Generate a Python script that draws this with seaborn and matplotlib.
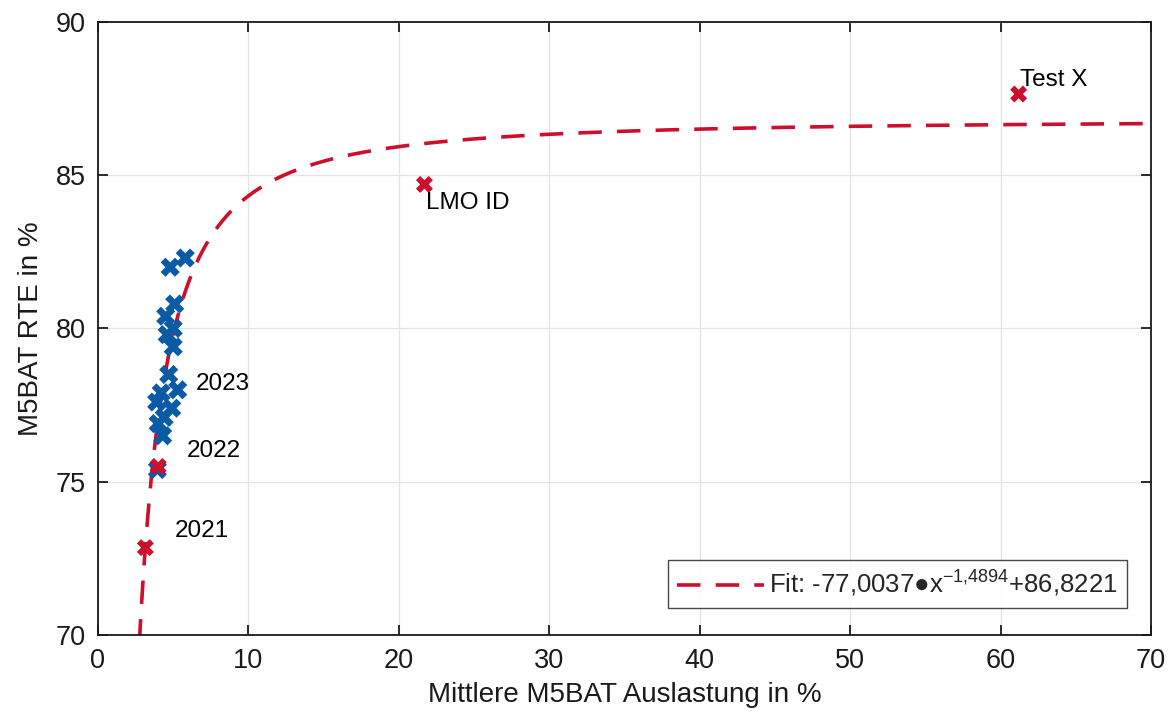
import numpy as np
import pandas as pd
import matplotlib
matplotlib.use("Agg")
import matplotlib.pyplot as plt
import seaborn as sns

# Blue points (yearly measurements)
blue_x = [4.8, 5.8, 5.1, 4.5, 5.0, 4.6, 5.0, 4.7, 4.2, 5.3, 4.9, 3.9, 4.0, 4.4, 4.3, 3.95]
blue_y = [82.0, 82.3, 80.8, 80.4, 80.0, 79.8, 79.4, 78.5, 77.9, 78.0, 77.4, 77.6, 76.9, 77.1, 76.5, 75.4]

# Red points (highlighted)
red_x = [3.15, 4.0, 21.7, 61.2]
red_y = [72.85, 75.5, 84.7, 87.65]

# Text labels
label_text = ["2023", "2022", "2021", "LMO ID", "Test X"]
label_x = [6.5, 5.9, 5.1, 21.8, 61.3]
label_y = [78.2, 76.0, 73.4, 84.1, 88.1]

# Fit coefficients from the legend: a * x^b + c
fit_a = -77.0037
fit_b = -1.4894
fit_c = 86.8221
fit_label = "Fit: -77,0037\u25cfx$^{-1{,}4894}$+86,8221"

RED = "#CE0E2D"
BLUE = "#0A5AA6"
INK = "#1a1a1a"

sns.set_theme(style="white")
plt.rcParams["font.family"] = ["Liberation Sans", "DejaVu Sans"]
plt.rcParams["mathtext.fontset"] = "custom"
plt.rcParams["mathtext.rm"] = "Liberation Sans"
plt.rcParams["mathtext.it"] = "Liberation Sans"

fig = plt.figure(figsize=(11.75, 7.25), dpi=100)
ax = fig.add_axes([0.0834, 0.1241, 0.8962, 0.8456])

fit_x = np.linspace(2.75, 70, 600)
fit_df = pd.DataFrame({"x": fit_x, "y": fit_a * fit_x ** fit_b + fit_c})
sns.lineplot(data=fit_df, x="x", y="y", ax=ax, color=RED, lw=2.6,
             dashes=False, linestyle=(0, (6.5, 4.2)), label=fit_label, zorder=2)

blue_df = pd.DataFrame({"x": blue_x, "y": blue_y})
sns.scatterplot(data=blue_df, x="x", y="y", ax=ax, marker="X", s=190,
                color=BLUE, edgecolor="none", zorder=3, legend=False)
red_df = pd.DataFrame({"x": red_x, "y": red_y})
sns.scatterplot(data=red_df, x="x", y="y", ax=ax, marker="X", s=150,
                color=RED, edgecolor="none", zorder=4, legend=False)

for t, x, y in zip(label_text, label_x, label_y):
    ax.text(x, y, t, fontsize=17.5, color="black", ha="left", va="center", zorder=5)

ax.set_xlim(0, 70)
ax.set_ylim(70, 90)
ax.set_xticks(range(0, 71, 10))
ax.set_yticks(range(70, 91, 5))
ax.grid(True, color="#e3e3e3", lw=0.9)
ax.set_axisbelow(True)
for s in ax.spines.values():
    s.set_visible(True)
    s.set_color(INK)
    s.set_linewidth(1.3)
ax.tick_params(direction="in", length=7, width=1.3, color=INK,
               labelsize=19.5, labelcolor=INK, top=True, right=True,
               bottom=True, left=True, pad=9)
ax.set_xlabel("Mittlere M5BAT Auslastung in %", fontsize=20, color=INK, labelpad=6)
ax.set_ylabel("M5BAT RTE in %", fontsize=20, color=INK, labelpad=8)

leg = ax.legend(loc="lower right", bbox_to_anchor=(0.982, 0.035), fontsize=18.5,
                frameon=True, fancybox=False, handlelength=3.4, borderpad=0.35,
                handletextpad=0.2, borderaxespad=0.2)
leg.get_frame().set_edgecolor(INK)
leg.get_frame().set_linewidth(1.0)

fig.savefig("out.png", dpi=100)
